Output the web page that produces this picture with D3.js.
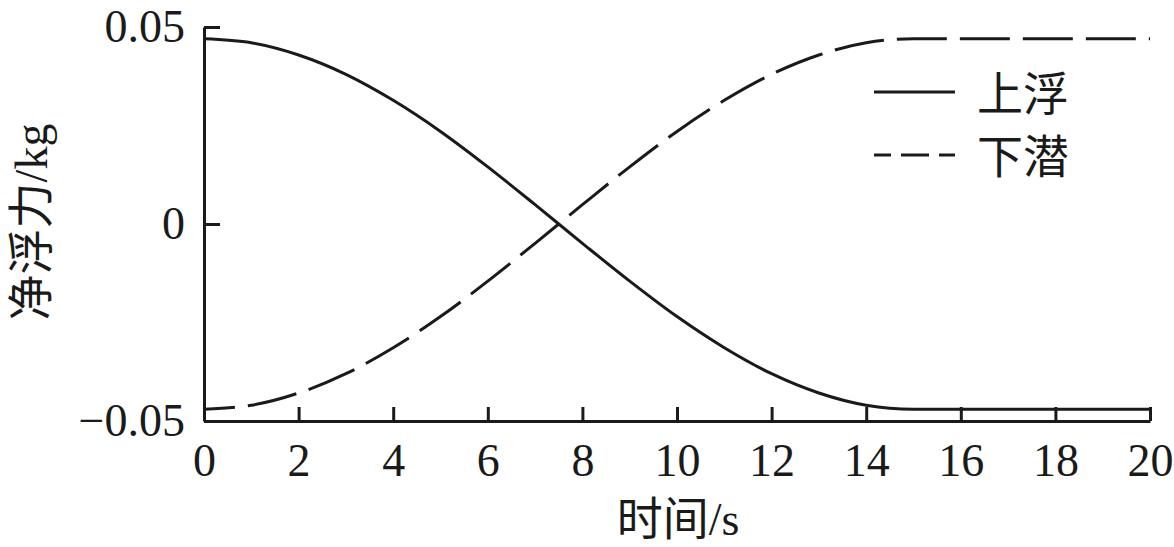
<!DOCTYPE html>
<html>
<head>
<meta charset="utf-8">
<script src="https://cdn.jsdelivr.net/npm/d3@7"></script>
<style>
    body { margin: 0; background: #fff; }
    .graph text { font-family: 'Liberation Serif', 'Noto Sans CJK SC', serif; fill: #1a1a1a; }
    .graph .cjk { font-family: 'Noto Sans CJK SC', sans-serif; }
    .graph .latin { font-family: 'Liberation Serif', serif; }
</style>
</head>
<body>
<div class="graph"></div>
<script>
// time (s)
var timeValues = [0, 1, 2, 3, 4, 5, 6, 7, 8, 9, 10, 11, 12, 13, 14, 15, 20];
// net buoyancy (kg), ascending
var ascendValues = [0.0470, 0.0460, 0.0429, 0.0380, 0.0314, 0.0235, 0.0145, 0.0049,
    -0.0049, -0.0145, -0.0235, -0.0314, -0.0380, -0.0429, -0.0460, -0.0470, -0.0470];
// net buoyancy (kg), descending
var descendValues = [-0.0470, -0.0460, -0.0429, -0.0380, -0.0314, -0.0235, -0.0145, -0.0049,
    0.0049, 0.0145, 0.0235, 0.0314, 0.0380, 0.0429, 0.0460, 0.0470, 0.0470];
var seriesNames = ['上浮', '下潜'];
var xTicks = [0, 2, 4, 6, 8, 10, 12, 14, 16, 18, 20];
var yTicks = [-0.05, 0, 0.05];
var yTickLabels = ['\u22120.05', '0', '0.05'];

document.addEventListener('DOMContentLoaded', function () {
    var width = 1174;
    var height = 547;
    var fontSize = 46;

    var svg = d3
        .select('.graph')
        .append('svg')
        .attr('width', width)
        .attr('height', height);

    var xScale = d3.scaleLinear().domain([0, 20]).range([204, 1150]);
    var yScale = d3.scaleLinear().domain([-0.05, 0.05]).range([421, 27]);

    // x axis
    var xAxis = d3.axisBottom(xScale)
        .tickValues(xTicks)
        .tickSizeInner(-14)
        .tickSizeOuter(0)
        .tickPadding(22);

    var gx = svg.append('g')
        .attr('transform', 'translate(0, ' + yScale(-0.05) + ')')
        .call(xAxis);

    // y axis
    var yAxis = d3.axisLeft(yScale)
        .tickValues(yTicks)
        .tickFormat(function (d, i) { return yTickLabels[i]; })
        .tickSizeInner(-16)
        .tickSizeOuter(0)
        .tickPadding(19);

    var gy = svg.append('g')
        .attr('transform', 'translate(' + xScale(0) + ', 0)')
        .call(yAxis);

    [gx, gy].forEach(function (g) {
        g.selectAll('path, line')
            .attr('stroke', '#1a1a1a')
            .attr('stroke-width', 3);
        g.selectAll('text')
            .style('font-size', fontSize + 'px');
    });

    // curves
    var line = d3.line()
        .x(function (d, i) { return xScale(timeValues[i]); })
        .y(function (d) { return yScale(d); })
        .curve(d3.curveMonotoneX);

    svg.append('path')
        .datum(ascendValues)
        .attr('d', line)
        .attr('fill', 'none')
        .attr('stroke', '#1a1a1a')
        .attr('stroke-width', 3);

    svg.append('path')
        .datum(descendValues)
        .attr('d', line)
        .attr('fill', 'none')
        .attr('stroke', '#1a1a1a')
        .attr('stroke-width', 3)
        .attr('stroke-dasharray', '50,13')
        .attr('stroke-dashoffset', 19);

    // legend
    var legend = svg.append('g');
    var legendY = [92, 155];
    var legendDash = [null, '17,10,28,10'];

    seriesNames.forEach(function (name, i) {
        legend.append('line')
            .attr('x1', 874)
            .attr('x2', 955)
            .attr('y1', legendY[i])
            .attr('y2', legendY[i])
            .attr('stroke', '#1a1a1a')
            .attr('stroke-width', 3)
            .attr('stroke-dasharray', legendDash[i]);
        legend.append('text')
            .attr('class', 'cjk')
            .attr('x', 977)
            .attr('y', legendY[i] - 2)
            .attr('dominant-baseline', 'central')
            .style('font-size', fontSize + 'px')
            .text(name);
    });

    // axis titles, CJK part and unit part in separate spans
    function addTitle(sel, cjk, unit) {
        sel.append('tspan').attr('class', 'cjk').text(cjk);
        sel.append('tspan').attr('class', 'latin').text(unit);
    }

    var xTitle = svg.append('text')
        .attr('x', 678)
        .attr('y', 535)
        .attr('text-anchor', 'middle')
        .style('font-size', fontSize + 'px');
    addTitle(xTitle, '时间', '/s');

    var yTitle = svg.append('text')
        .attr('transform', 'translate(47, 222) rotate(-90)')
        .attr('text-anchor', 'middle')
        .style('font-size', fontSize + 'px');
    addTitle(yTitle, '净浮力', '/kg');
});
</script>
</body>
</html>
